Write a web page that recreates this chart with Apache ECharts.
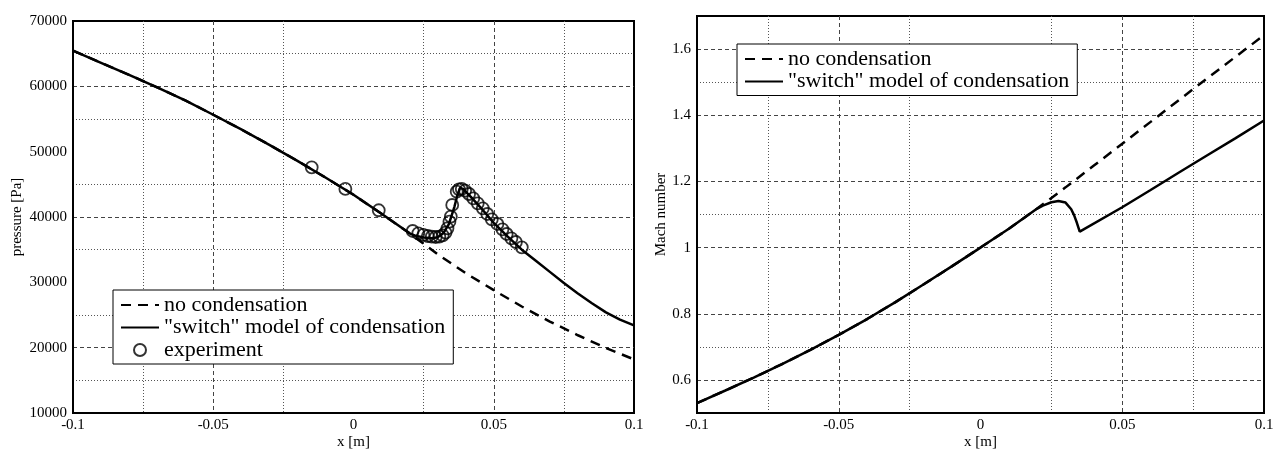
<!DOCTYPE html>
<html>
<head>
<meta charset="utf-8">
<script src="https://cdn.jsdelivr.net/npm/echarts@6/dist/echarts.min.js"></script>
<style>
  html, body { margin: 0; padding: 0; background: #fff; }
  #chart { width: 1274px; height: 450px; }
</style>
</head>
<body>
<div id="chart"></div>
<script>
// --- pressure plot (left) ---
const presX_noCond = [-0.1, -0.09, -0.08, -0.07, -0.06, -0.05, -0.04, -0.03, -0.02, -0.01, 0, 0.01, 0.02, 0.03, 0.04, 0.05, 0.06, 0.07, 0.08, 0.09, 0.1];
const pres_noCond = [65450, 63600, 61750, 59850, 57850, 55650, 53400, 51050, 48600, 46050, 43400, 40500, 37500, 34300, 31400, 28800, 26300, 24000, 21900, 19950, 18200];

const presX_switch = [-0.1, -0.09, -0.08, -0.07, -0.06, -0.05, -0.04, -0.03, -0.02, -0.01, 0, 0.01, 0.02, 0.022, 0.025, 0.028, 0.03, 0.032, 0.034, 0.036, 0.037, 0.038, 0.0385, 0.039, 0.04, 0.042, 0.045, 0.05, 0.055, 0.06, 0.065, 0.07, 0.075, 0.08, 0.085, 0.09, 0.095, 0.1];
const pres_switch = [65450, 63600, 61750, 59850, 57850, 55650, 53400, 51050, 48600, 46050, 43400, 40500, 37500, 37150, 36850, 36750, 36900, 37500, 38900, 41600, 43300, 44450, 44550, 44300, 43900, 43000, 41600, 39100, 37000, 35000, 33300, 31600, 29900, 28300, 26800, 25400, 24300, 23400];

const expX = [-0.0149, -0.0029, 0.0090, 0.0211, 0.0231, 0.0249, 0.0265, 0.0279, 0.0293, 0.0306, 0.0318, 0.0328, 0.0335, 0.0342, 0.0347, 0.0352, 0.0368, 0.0376, 0.0386, 0.0398, 0.0412, 0.0427, 0.0443, 0.0461, 0.0477, 0.0493, 0.0513, 0.0531, 0.0546, 0.0563, 0.0579, 0.0600];
const expP = [47600, 44290, 41030, 37860, 37500, 37250, 37090, 36990, 36940, 36990, 37190, 37600, 38270, 39280, 40050, 41840, 43880, 44240, 44290, 44030, 43520, 42860, 42100, 41330, 40460, 39650, 38930, 38110, 37400, 36740, 36170, 35360];

// --- Mach number plot (right) ---
const machX_noCond = [-0.1, -0.09, -0.08, -0.07, -0.06, -0.05, -0.04, -0.03, -0.02, -0.01, 0, 0.01, 0.02, 0.03, 0.04, 0.05, 0.06, 0.07, 0.08, 0.09, 0.1];
const mach_noCond = [0.530, 0.568, 0.607, 0.648, 0.691, 0.736, 0.784, 0.835, 0.889, 0.944, 1.0, 1.057, 1.118, 1.182, 1.248, 1.314, 1.380, 1.446, 1.512, 1.577, 1.642];

const machX_switch = [-0.1, -0.09, -0.08, -0.07, -0.06, -0.05, -0.04, -0.03, -0.02, -0.01, 0, 0.01, 0.02, 0.022, 0.025, 0.0275, 0.03, 0.032, 0.033, 0.034, 0.035, 0.0353, 0.05, 0.06, 0.07, 0.08, 0.09, 0.1];
const mach_switch = [0.530, 0.568, 0.607, 0.648, 0.691, 0.736, 0.784, 0.835, 0.889, 0.944, 1.0, 1.057, 1.118, 1.127, 1.137, 1.141, 1.136, 1.116, 1.098, 1.075, 1.048, 1.045, 1.122, 1.174, 1.227, 1.279, 1.331, 1.384];

const legendNames = ['no condensation', '"switch" model of condensation', 'experiment'];

const FONT = 'Liberation Serif';
const zip = (xs, ys) => xs.map((x, i) => [x, ys[i]]);

// same scale twice: one axis carries the dotted minor lines, the other the dashed major lines
function xAxes(grid) {
    const base = {
        type: 'value', gridIndex: grid, min: -0.1, max: 0.1, interval: 0.025,
        axisTick: { show: false }
    };
    return [
        Object.assign({}, base, {
            name: 'x [m]', nameLocation: 'middle', nameGap: 22, nameMoveOverlap: false,
            nameTextStyle: { fontFamily: FONT, fontSize: 15, color: '#000' },
            axisLine: { show: true, onZero: false, lineStyle: { color: '#000', width: 2 } },
            axisLabel: {
                fontFamily: FONT, fontSize: 15, color: '#000', margin: 5,
                formatter: v => (Math.round(v * 40) % 2 === 0 ? String(+v.toFixed(2)) : '')
            },
            splitLine: { show: true, lineStyle: { type: [1, 2], width: 1, color: ['transparent', '#555'] } }
        }),
        Object.assign({}, base, {
            axisLine: { show: false }, axisLabel: { show: false },
            splitLine: { show: true, lineStyle: { type: [4, 3], width: 1, color: ['transparent', 'transparent', '#444', 'transparent'] } }
        })
    ];
}

function yAxes(grid, min, max, interval, name, nameGap, labelFn, minorColors, majorColors) {
    const base = { type: 'value', gridIndex: grid, min: min, max: max, interval: interval, axisTick: { show: false } };
    return [
        Object.assign({}, base, {
            name: name, nameLocation: 'middle', nameGap: nameGap,
            nameTextStyle: { fontFamily: FONT, fontSize: 15, color: '#000' },
            axisLine: { show: true, onZero: false, lineStyle: { color: '#000', width: 2 } },
            axisLabel: { fontFamily: FONT, fontSize: 15, color: '#000', margin: 6, formatter: labelFn },
            splitLine: { show: true, lineStyle: { type: [1, 2], width: 1, color: minorColors } }
        }),
        Object.assign({}, base, {
            axisLine: { show: false }, axisLabel: { show: false },
            splitLine: { show: true, lineStyle: { type: [4, 3], width: 1, color: majorColors } }
        })
    ];
}

const presLabel = v => (v % 10000 === 0 ? String(v) : '');
const machLabel = v => {
    const k = Math.round(v * 10);
    return k % 2 === 0 ? String(+(k / 10).toFixed(1)) : '';
};

const dashedLine = { color: '#000', width: 2.5, type: [10, 7] };
const solidLine = { color: '#000', width: 2.5, type: 'solid' };

const legendBase = {
    orient: 'vertical',
    backgroundColor: '#fff',
    borderColor: '#000',
    borderWidth: 1,
    borderRadius: 0,
    padding: [4, 8, 3, 7],
    itemGap: 0.5,
    itemWidth: 38,
    itemHeight: 12,
    textStyle: { fontFamily: FONT, fontSize: 22, lineHeight: 21, color: '#000' },
    selectedMode: false
};

const lineItem = name => ({ name: name, icon: 'inherit', itemStyle: { opacity: 0 } });

const chart = echarts.init(document.getElementById('chart'), null, { renderer: 'canvas' });

chart.setOption({
    animation: false,
    backgroundColor: '#fff',
    grid: [
        { left: 73, top: 21, width: 561, height: 392, outerBoundsMode: 'none', show: true, borderColor: '#000', borderWidth: 2, backgroundColor: 'transparent' },
        { left: 697, top: 16, width: 567, height: 397, outerBoundsMode: 'none', show: true, borderColor: '#000', borderWidth: 2, backgroundColor: 'transparent' }
    ],
    xAxis: [...xAxes(0), ...xAxes(1)],
    yAxis: [
        ...yAxes(0, 10000, 70000, 5000, 'pressure [Pa]', 48, presLabel,
            ['transparent', '#555'], ['transparent', 'transparent', '#444', 'transparent']),
        ...yAxes(1, 0.5, 1.7, 0.1, 'Mach number', 28, machLabel,
            ['transparent', 'transparent', '#555', 'transparent'], ['transparent', '#444'])
    ],
    legend: [
        Object.assign({}, legendBase, {
            left: 113, top: 290,
            data: [lineItem(legendNames[0]), lineItem(legendNames[1]), { name: legendNames[2] }]
        }),
        Object.assign({}, legendBase, {
            left: 737, top: 44,
            data: [lineItem(legendNames[0]), lineItem(legendNames[1])]
        })
    ],
    series: [
        {
            name: legendNames[0], type: 'line', xAxisIndex: 0, yAxisIndex: 0,
            data: zip(presX_noCond, pres_noCond), symbol: 'none',
            itemStyle: { color: '#000' }, lineStyle: dashedLine, z: 3
        },
        {
            name: legendNames[1], type: 'line', xAxisIndex: 0, yAxisIndex: 0,
            data: zip(presX_switch, pres_switch), symbol: 'none',
            itemStyle: { color: '#000' }, lineStyle: solidLine, z: 4
        },
        {
            name: legendNames[2], type: 'scatter', xAxisIndex: 0, yAxisIndex: 0,
            data: zip(expX, expP), symbol: 'circle', symbolSize: 12,
            itemStyle: { color: 'transparent', borderColor: '#000', borderWidth: 1.8 }, z: 5
        },
        {
            name: legendNames[0], type: 'line', xAxisIndex: 2, yAxisIndex: 2,
            data: zip(machX_noCond, mach_noCond), symbol: 'none',
            itemStyle: { color: '#000' }, lineStyle: dashedLine, z: 3
        },
        {
            name: legendNames[1], type: 'line', xAxisIndex: 2, yAxisIndex: 2,
            data: zip(machX_switch, mach_switch), symbol: 'none',
            itemStyle: { color: '#000' }, lineStyle: solidLine, z: 4
        }
    ]
});
</script>
</body>
</html>
